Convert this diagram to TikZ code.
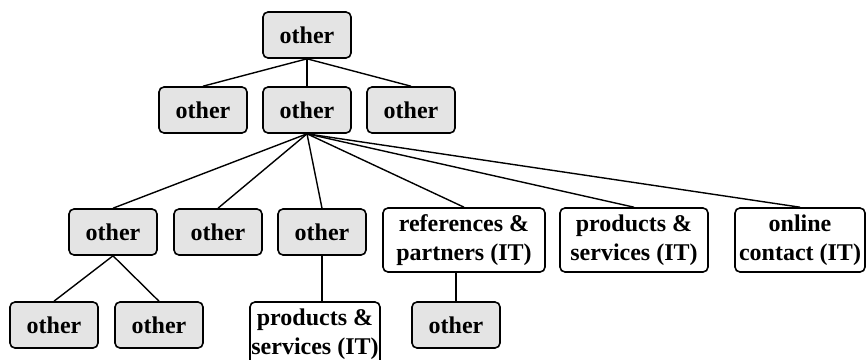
\documentclass[tikz,border=0pt]{standalone}
\usepackage{fontspec}
\setmainfont{Liberation Serif}
\definecolor{boxgrey}{HTML}{E4E4E4}
\tikzset{
  box/.style={draw, line width=1.6pt, rounded corners=5pt, inner sep=1pt,
    align=center, font=\fontsize{24}{29}\selectfont\bfseries},
  othr/.style={box, fill=boxgrey, minimum width=88pt, minimum height=46pt},
  itnode/.style={box, fill=white, minimum height=64pt},
  link/.style={line width=1.4pt},
}

\begin{document}
\begin{tikzpicture}[x=1pt, y=-1pt]
  \useasboundingbox (0,0) rectangle (866,359);
  % top and second row
  \node[othr] (root) at (307,35) {other};
  \node[othr] (left) at (203,110) {other};
  \node[othr] (mid) at (307,110) {other};
  \node[othr] (right) at (411,110) {other};
  % third row
  \node[othr] (oa) at (113,232) {other};
  \node[othr] (ob) at (218,232) {other};
  \node[othr] (oc) at (322,232) {other};
  \node[itnode, minimum width=162pt] (refs) at (464,240) {references \&\\partners (IT)};
  \node[itnode, minimum width=148pt] (prods) at (634,240) {products \&\\services (IT)};
  \node[itnode, minimum width=130pt] (online) at (800,240) {online\\contact (IT)};
  % bottom row
  \node[othr] (oaa) at (54,325) {other};
  \node[othr] (oab) at (159,325) {other};
  \node[itnode, minimum width=130pt] (prodsb) at (315,334) {products \&\\services (IT)};
  \node[othr] (refo) at (456,325) {other};

  \foreach \c in {left, mid, right}
    \draw[link] (root.south) -- (\c.north);
  \foreach \c in {oa, ob, oc, refs, prods, online}
    \draw[link] (mid.south) -- (\c.north);
  \draw[link] (oa.south) -- (oaa.north);
  \draw[link] (oa.south) -- (oab.north);
  \draw[link] (oc.south) -- (oc.south |- prodsb.north);
  \draw[link] (refo.north |- refs.south) -- (refo.north);
\end{tikzpicture}
\end{document}
